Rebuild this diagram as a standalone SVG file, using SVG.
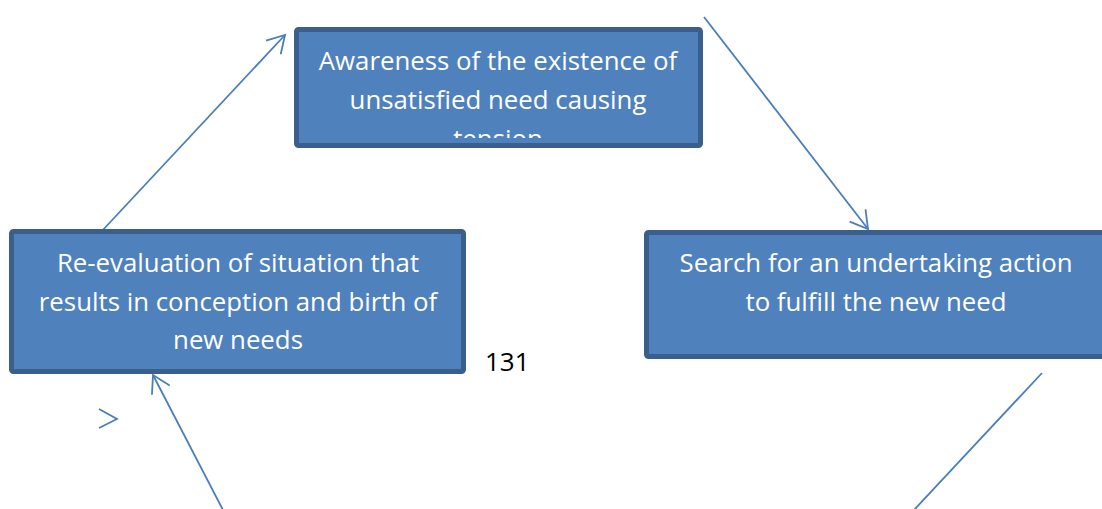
<svg xmlns="http://www.w3.org/2000/svg" width="1102" height="509" viewBox="0 0 1102 509">
  <style>
    .box { fill: #4F81BD; stroke: #3A5F8C; stroke-width: 5; }
    .label { font-family: "Open Sans", "Liberation Sans", sans-serif; font-size: 25.8px; fill: #FFFFFF; text-anchor: middle; }
    .link { fill: none; stroke: #4A7EBB; stroke-width: 1.8; }
    .page { font-family: "Open Sans", "Liberation Sans", sans-serif; font-size: 26px; fill: #000000; }
  </style>
  <defs>
    <marker id="open-arrow" markerUnits="userSpaceOnUse" markerWidth="24" markerHeight="24" viewBox="-20 -12 24 24" refX="0" refY="0" orient="auto">
      <path d="M -17,-10 L 0,0 L -17,10" fill="none" stroke="#4A7EBB" stroke-width="1.8"/>
    </marker>
    <clipPath id="awareness-clip">
      <rect x="299" y="32" width="399" height="106"/>
    </clipPath>
  </defs>

  <!-- connectors of the cycle -->
  <g id="connectors">
    <line class="link" x1="101" y1="232" x2="285" y2="35" marker-end="url(#open-arrow)"/>
    <line class="link" x1="704" y1="17" x2="868" y2="229" marker-end="url(#open-arrow)"/>
    <line class="link" x1="1042" y1="373" x2="914" y2="510"/>
    <line class="link" x1="223" y1="510" x2="153" y2="375" marker-end="url(#open-arrow)"/>
    <polyline class="link" points="99,409 117,419 99,428"/>
  </g>

  <g id="node-awareness">
    <rect class="box" x="296.5" y="29.5" width="404" height="116" rx="2"/>
    <g clip-path="url(#awareness-clip)">
      <text class="label" x="498" y="70">Awareness of the existence of</text>
      <text class="label" x="498" y="109">unsatisfied need causing</text>
      <text class="label" x="498" y="148">tension</text>
    </g>
  </g>

  <g id="node-search">
    <rect class="box" x="646.5" y="232.5" width="470" height="124" rx="2"/>
    <text class="label" x="876" y="272">Search for an undertaking action</text>
    <text class="label" x="876" y="311">to fulfill the new need</text>
  </g>

  <g id="node-reevaluation">
    <rect class="box" x="11.5" y="231.5" width="452" height="140" rx="2"/>
    <text class="label" x="238" y="272">Re-evaluation of situation that</text>
    <text class="label" x="238" y="311">results in conception and birth of</text>
    <text class="label" x="238" y="349">new needs</text>
  </g>

  <text class="page" x="485" y="371">131</text>
</svg>
